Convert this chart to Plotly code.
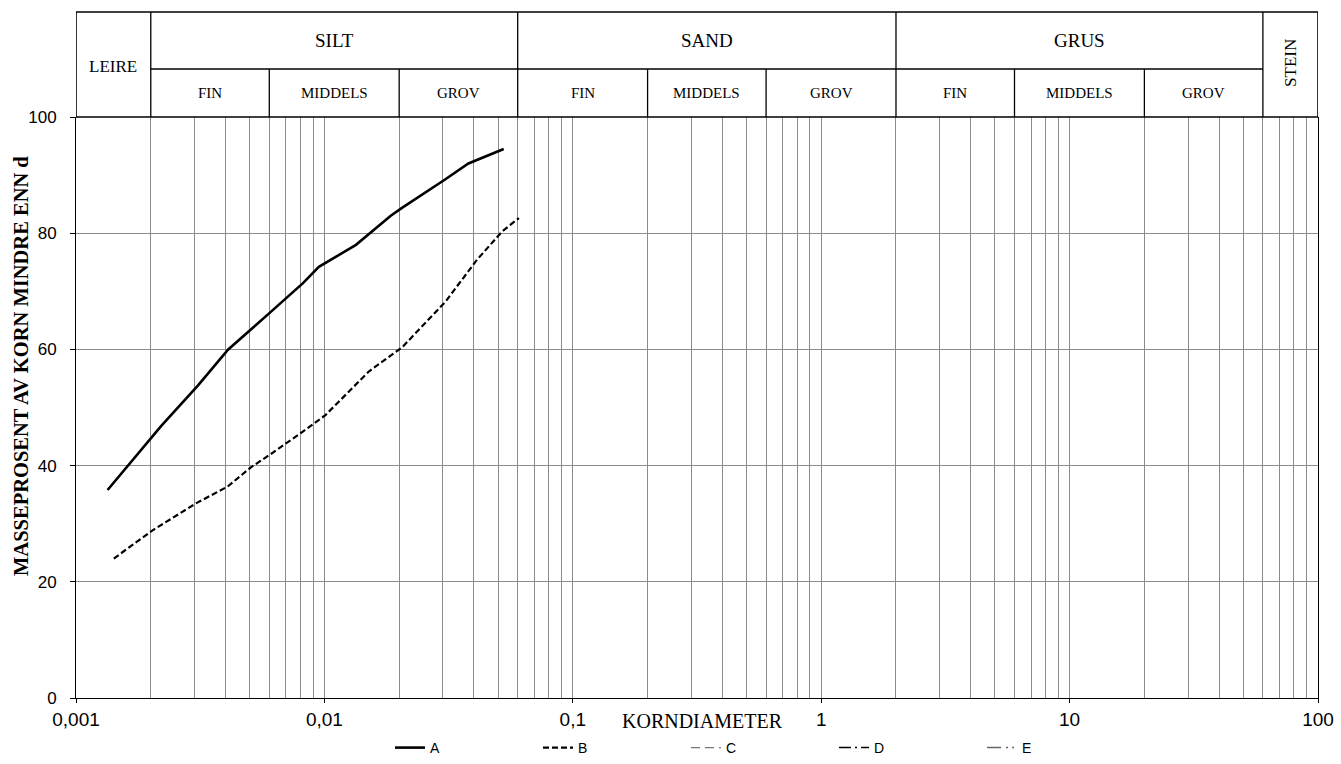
import numpy as np
import plotly.graph_objects as go

# ---------------- data ----------------
A_x = [0.00134, 0.00165, 0.0022, 0.0031, 0.0041, 0.0061, 0.0082, 0.0095, 0.0134, 0.0185, 0.0206, 0.0305, 0.038, 0.0527]
A_y = [35.8, 40.5, 46.8, 53.8, 60.0, 66.5, 71.4, 74.2, 78.0, 83.0, 84.4, 89.2, 92.0, 94.5]

B_x = [0.00142, 0.00204, 0.00304, 0.00408, 0.00506, 0.00609, 0.00816, 0.0101, 0.0151, 0.0206, 0.0307, 0.0411, 0.0519, 0.0607]
B_y = [24.0, 28.9, 33.5, 36.4, 39.7, 42.0, 45.8, 48.7, 56.2, 60.4, 68.2, 75.4, 80.3, 82.6]

series_names = ["A", "B", "C", "D", "E"]

x_major_ticks = [0.001, 0.01, 0.1, 1, 10, 100]
x_major_text = ["0,001", "0,01", "0,1", "1", "10", "100"]
x_minor_ticks = [m * 10.0 ** e for e in range(-3, 2) for m in range(2, 10)]
y_ticks = [0, 20, 40, 60, 80, 100]

main_labels = ["LEIRE", "SILT", "SAND", "GRUS", "STEIN"]
main_bounds = [0.001, 0.002, 0.06, 2, 60, 100]
sub_labels = ["FIN", "MIDDELS", "GROV", "FIN", "MIDDELS", "GROV", "FIN", "MIDDELS", "GROV"]
sub_bounds = [0.002, 0.006, 0.02, 0.06, 0.2, 0.6, 2, 6, 20, 60]

# ---------------- layout geometry ----------------
W, H = 1341, 764
L, R, T, B = 76, 23, 117, 66
PW = W - L - R
PH = H - T - B
y_top = 1 + (T - 12) / PH
y_mid = 1 + (T - 69) / PH

SERIF = "Liberation Serif, Times New Roman, serif"
SANS = "Liberation Sans, Arial, sans-serif"
GRID = "#8c8c8c"

fig = go.Figure()
fig.add_trace(go.Scatter(x=A_x, y=A_y, mode="lines", name=series_names[0],
                         line=dict(color="black", width=2.6)))
fig.add_trace(go.Scatter(x=B_x, y=B_y, mode="lines", name=series_names[1],
                         line=dict(color="black", width=2.2, dash="6px,3px")))
fig.add_trace(go.Scatter(x=[None], y=[None], mode="lines", name=series_names[2],
                         line=dict(color="#777777", width=1.2, dash="9px,5px")))
fig.add_trace(go.Scatter(x=[None], y=[None], mode="lines", name=series_names[3],
                         line=dict(color="black", width=1.5, dash="12px,4px,2px,4px")))
fig.add_trace(go.Scatter(x=[None], y=[None], mode="lines", name=series_names[4],
                         line=dict(color="#666666", width=1.5, dash="14px,5px,2px,4px,2px,4px")))

shapes = []
blk = dict(color="black", width=1.3)
# outer frame of header table
shapes.append(dict(type="rect", xref="x", yref="paper", x0=main_bounds[0], x1=main_bounds[-1],
                   y0=1, y1=y_top, line=dict(color="black", width=1.6)))
# row divider (under SILT / SAND / GRUS)
shapes.append(dict(type="line", xref="x", yref="paper", x0=main_bounds[1], x1=main_bounds[-2],
                   y0=y_mid, y1=y_mid, line=blk))
# main dividers
for b in main_bounds[1:-1]:
    shapes.append(dict(type="line", xref="x", yref="paper", x0=b, x1=b, y0=1, y1=y_top, line=blk))
# sub dividers
for b in sub_bounds[1:-1]:
    if b in main_bounds:
        continue
    shapes.append(dict(type="line", xref="x", yref="paper", x0=b, x1=b, y0=1, y1=y_mid, line=blk))

annotations = []
def ann(x, y, text, size, xref="x", angle=0):
    annotations.append(dict(x=x, y=y, xref=xref, yref="paper", text=text, textangle=angle,
                            xanchor="center", yanchor="middle", showarrow=False,
                            font=dict(family=SERIF, size=size, color="black")))

for i, lab in enumerate(main_labels):
    xc = (np.log10(main_bounds[i]) + np.log10(main_bounds[i + 1])) / 2
    if lab == "LEIRE":
        ann(xc, (1 + y_top) / 2 - 2 / PH, lab, 17)
    elif lab == "STEIN":
        ann(xc, (1 + y_top) / 2 + 2 / PH, lab, 17, angle=-90)
    else:
        ann(xc, (y_mid + y_top) / 2, lab, 19)
for i, lab in enumerate(sub_labels):
    xc = (np.log10(sub_bounds[i]) + np.log10(sub_bounds[i + 1])) / 2
    ann(xc, (1 + y_mid) / 2, lab, 15)

# axis titles
ann((21 - L) / PW, (H - B - 366) / PH, "<b>MASSEPROSENT AV KORN MINDRE ENN d</b>", 20.5,
    xref="paper", angle=-90)
ann((702 - L) / PW, -(721 - (H - B)) / PH, "KORNDIAMETER", 20, xref="paper")

fig.update_layout(
    width=W, height=H,
    margin=dict(l=L, r=R, t=T, b=B, pad=0, autoexpand=False),
    paper_bgcolor="white", plot_bgcolor="white",
    shapes=shapes, annotations=annotations,
    showlegend=True,
    legend=dict(orientation="h", x=(390 - L) / PW, xanchor="left", y=-(748 - (H - B)) / PH, yanchor="middle",
                entrywidth=103, entrywidthmode="pixels", font=dict(family=SANS, size=14, color="black"),
                bgcolor="rgba(0,0,0,0)", traceorder="normal"),
    xaxis=dict(type="log", range=[-3, 2], tickmode="array", tickvals=x_major_ticks, ticktext=x_major_text,
               ticks="outside", ticklen=4, tickcolor="black", ticklabelstandoff=0,
               tickfont=dict(family=SANS, size=19, color="black"),
               showgrid=True, gridcolor=GRID, gridwidth=1,
               minor=dict(tickmode="array", tickvals=x_minor_ticks, showgrid=True, gridcolor=GRID,
                          gridwidth=1, ticks=""),
               showline=True, linecolor="black", linewidth=1, zeroline=False, automargin=False),
    yaxis=dict(range=[0, 100], tickmode="array", tickvals=y_ticks,
               ticks="outside", ticklen=5, tickcolor="black", ticklabelstandoff=10,
               tickfont=dict(family=SANS, size=17, color="black"),
               showgrid=True, gridcolor=GRID, gridwidth=1,
               showline=True, linecolor="black", linewidth=1, mirror=True, zeroline=False,
               automargin=False),
)

fig.write_html("out.html")
